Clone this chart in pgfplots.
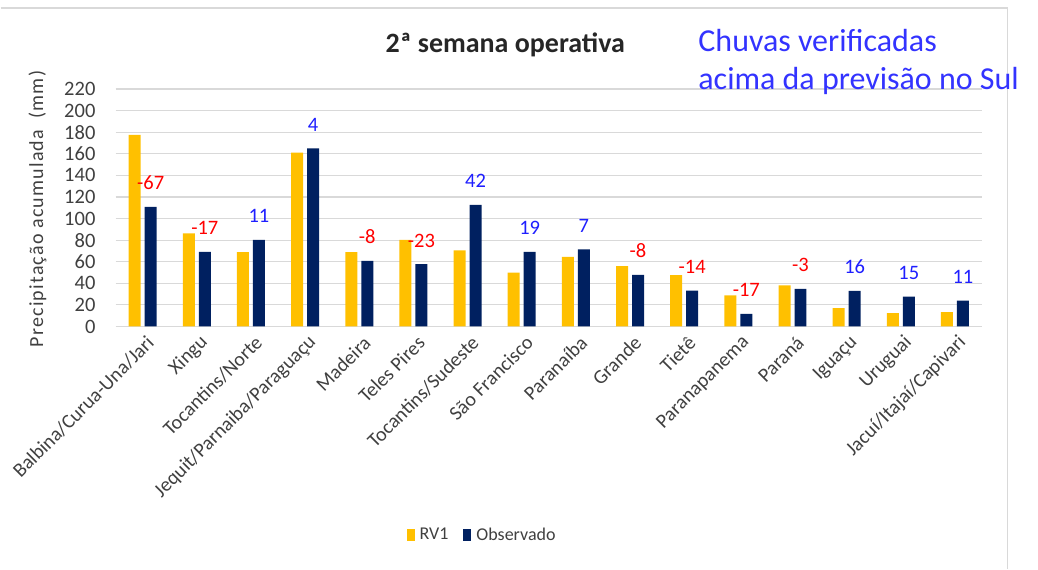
\documentclass[border=0pt]{standalone}
\usepackage{pgfplots}
\pgfplotsset{compat=1.18}
\usepackage{fontspec}
\setmainfont{Carlito}
\definecolor{rvy}{HTML}{FFC000}
\definecolor{obs}{HTML}{002060}
\definecolor{grd}{HTML}{D9D9D9}
\definecolor{txt}{HTML}{404040}
\definecolor{ttl}{HTML}{262626}
\definecolor{pos}{HTML}{1F1FFF}
\definecolor{neg}{HTML}{FF0000}
\definecolor{note}{HTML}{3333FF}
\begin{document}
\begin{tikzpicture}[x=1pt,y=1pt]
\path (0,0) rectangle (1038,569);
\draw[grd, line width=1.3pt] (0,561) -- (1007.5,561) -- (1007.5,0);
\begin{axis}[
  at={(115pt,242.3pt)}, anchor=south west,
  scale only axis, width=867pt, height=237.7pt,
  ybar=4pt, bar width=12pt,
  xmin=-0.5, xmax=15.5, ymin=0, ymax=220,
  ytick={0,20,...,220},
  xtick={0,...,15},
  xticklabels={Balbina/Curua-Una/Jari, Xingu, Tocantins/Norte, Jequit/Parnaiba/Paraguaçu, Madeira, Teles Pires, Tocantins/Sudeste, São Francisco, Paranaíba, Grande, Tietê, Paranapanema, Paraná, Iguaçu, Uruguai, Jacuí/Itajaí/Capivari},
  axis line style={draw=none},
  major tick length=0pt,
  ymajorgrids, grid style={grd, line width=1.2pt},
  /pgf/number format/assume math mode=true,
  yticklabel style={font=\fontsize{20.5}{24}\selectfont, text=txt, anchor=east, inner sep=0pt, xshift=-20pt},
  xticklabel style={font=\fontsize{20}{24}\selectfont, text=txt, inner sep=0pt, xshift=8pt, yshift=-13pt, rotate=45, anchor=east},
  ylabel={\addfontfeature{LetterSpace=6}Precipitação acumulada\ \ (mm)},
  ylabel style={at={(axis description cs:-0.09,0.495)}, anchor=center, font=\fontsize{20}{24}\selectfont, text=txt},
  legend style={at={(axis description cs:0.423,-0.876)}, anchor=center, draw=none, fill=none,
    legend columns=2, font=\fontsize{18}{22}\selectfont, text=txt,
    /tikz/every odd column/.append style={column sep=3pt},
    /tikz/every even column/.append style={column sep=13pt}},
  legend image code/.code={\fill[#1] (0pt,-6pt) rectangle (8pt,6pt);},
  nodes near coords style={anchor=base, inner sep=0pt, yshift=17pt, font=\fontsize{20.5}{24}\selectfont},
]
\addplot[fill=rvy, draw=none] coordinates {
(0,177.5) (1,86.3) (2,68.8) (3,161) (4,68.8) (5,80.2) (6,70.4) (7,50)
(8,64.5) (9,55.9) (10,47.5) (11,28.8) (12,38.0) (13,17.0) (14,12.3) (15,13.2)};
\addlegendentry{RV1}
\addplot[fill=obs, draw=none, nodes near coords, point meta=explicit symbolic] coordinates {
(0,110.8) [\textcolor{neg}{-67}]
(1,69) [\textcolor{neg}{-17}]
(2,80.2) [\textcolor{pos}{11}]
(3,165) [\textcolor{pos}{4}]
(4,60.8) [\textcolor{neg}{-8}]
(5,57.7) [\textcolor{neg}{-23}]
(6,112.7) [\textcolor{pos}{42}]
(7,69) [\textcolor{pos}{19}]
(8,71.5) [\textcolor{pos}{7}]
(9,47.8) [\textcolor{neg}{-8}]
(10,33.3) [\textcolor{neg}{-14}]
(11,11.8) [\textcolor{neg}{-17}]
(12,34.9) [\textcolor{neg}{-3}]
(13,33.0) [\textcolor{pos}{16}]
(14,27.6) [\textcolor{pos}{15}]
(15,24) [\textcolor{pos}{11}]};
\addlegendentry{Observado}
\end{axis}
\node[anchor=base, inner sep=0pt, font=\bfseries\fontsize{28}{33}\selectfont, text=ttl] at (505,516.3) {2ª semana operativa};
\node[anchor=base west, inner sep=0pt, font=\fontsize{32}{38}\selectfont, text=note] at (698,517.3) {Chuvas verificadas};
\node[anchor=base west, inner sep=0pt, font=\fontsize{32}{38}\selectfont, text=note] at (698,479) {acima da previsão no Sul};
\end{tikzpicture}
\end{document}
